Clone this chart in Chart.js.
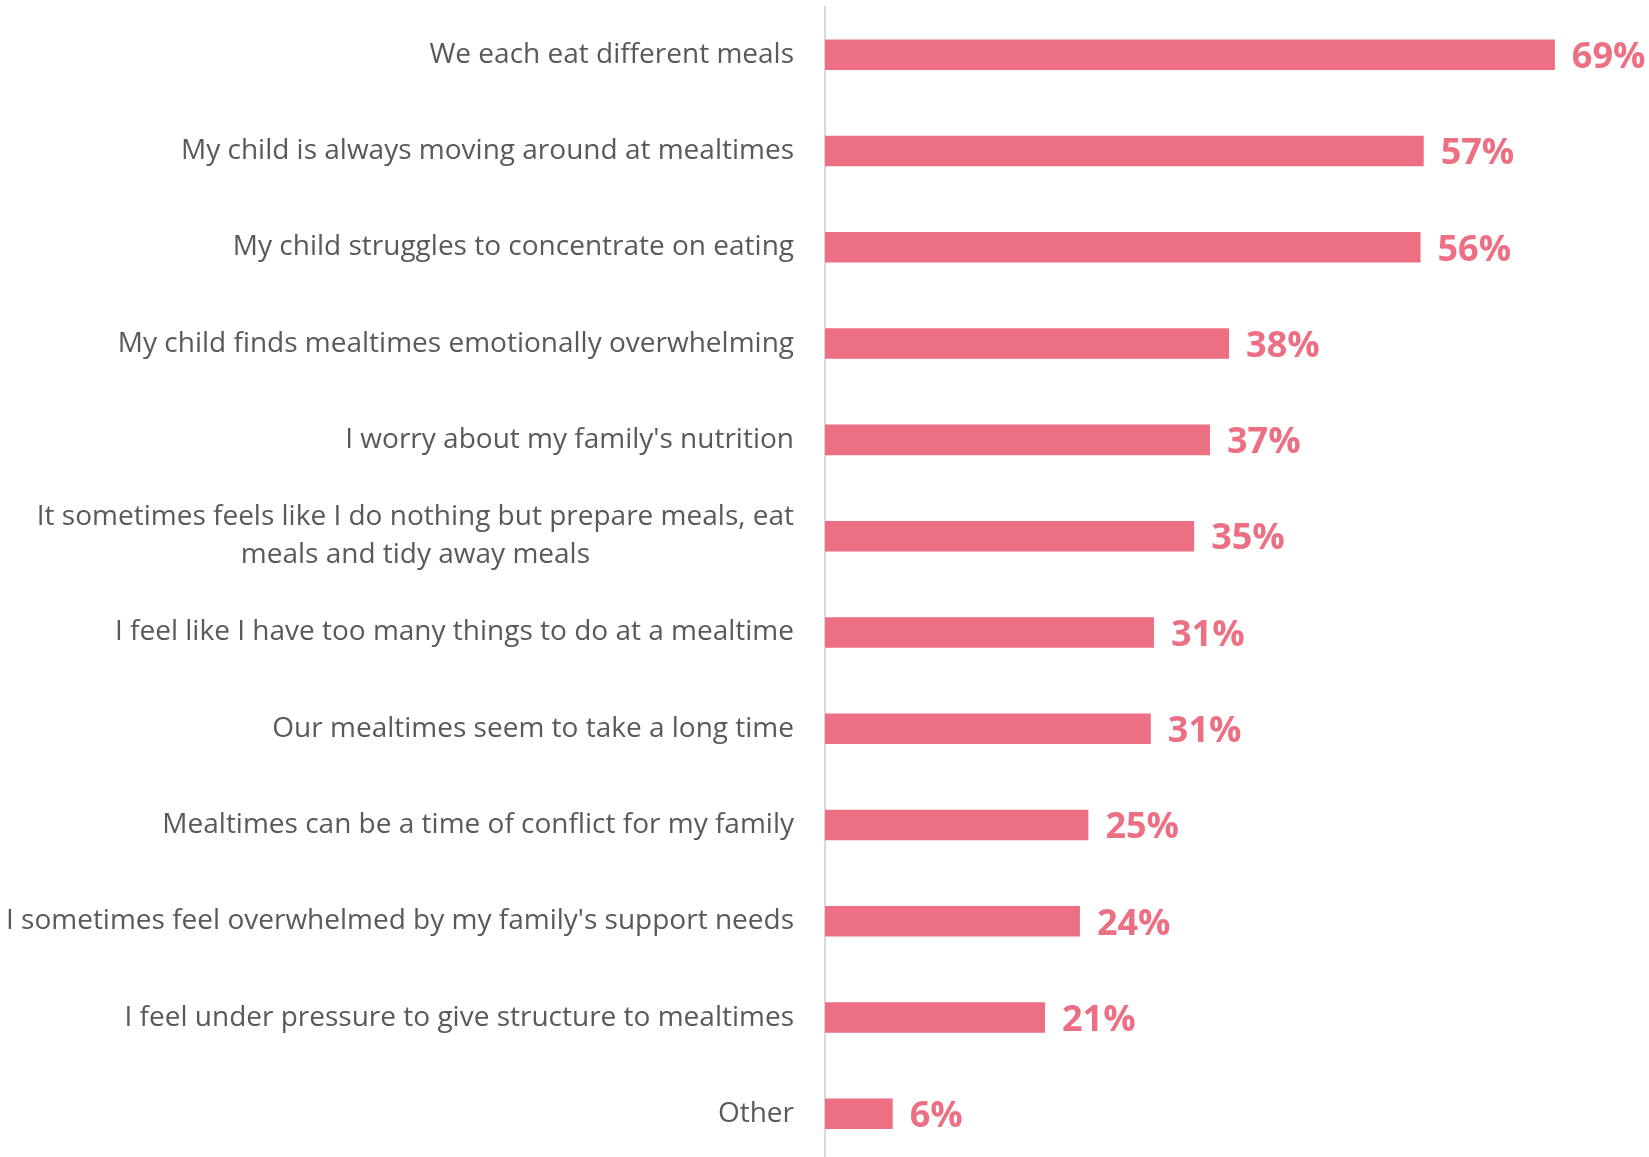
<!DOCTYPE html>
<html>
<head>
<meta charset="utf-8">
<title>Mealtime challenges</title>
<script src="https://cdn.jsdelivr.net/npm/chart.js@4.4.1/dist/chart.umd.min.js"></script>
<style>
  html, body { margin: 0; padding: 0; background: #fff; }
  #wrap { width: 1649px; height: 1157px; overflow: hidden; }
  #wrap canvas { display: block; }
</style>
</head>
<body>
<div id="wrap"><canvas id="mealChart" width="1649" height="1162"></canvas></div>
<script>
// categories, top to bottom
const categories = [
  'We each eat different meals',
  'My child is always moving around at mealtimes',
  'My child struggles to concentrate on eating',
  'My child finds mealtimes emotionally overwhelming',
  "I worry about my family's nutrition",
  ['It sometimes feels like I do nothing but prepare meals, eat', 'meals and tidy away meals'],
  'I feel like I have too many things to do at a mealtime',
  'Our mealtimes seem to take a long time',
  'Mealtimes can be a time of conflict for my family',
  "I sometimes feel overwhelmed by my family's support needs",
  'I feel under pressure to give structure to mealtimes',
  'Other'
];

// share of respondents (%)
const shares = [69.0, 56.6, 56.3, 38.2, 36.4, 34.9, 31.1, 30.8, 24.9, 24.1, 20.8, 6.4];

// labels printed next to the bars
const shareLabels = ['69%', '57%', '56%', '38%', '37%', '35%', '31%', '31%', '25%', '24%', '21%', '6%'];

const PINK = '#ec6f83';
const GREY_TEXT = '#595959';

// draws the value labels and the (centred, multi-line) category labels
const barLabels = {
  id: 'barLabels',
  afterDatasetsDraw(chart) {
    const ctx = chart.ctx;
    const bars = chart.getDatasetMeta(0).data;
    const left = chart.chartArea.left;
    ctx.save();

    ctx.font = 'bold 36px "Open Sans"';
    ctx.fillStyle = PINK;
    ctx.textAlign = 'left';
    ctx.textBaseline = 'middle';
    bars.forEach((bar, i) => ctx.fillText(shareLabels[i], bar.x + 17, bar.y + 3));

    ctx.font = '28px "Open Sans"';
    ctx.fillStyle = GREY_TEXT;
    ctx.textAlign = 'center';
    const lineH = 38;
    bars.forEach((bar, i) => {
      const lines = [].concat(categories[i]);
      const w = Math.max(...lines.map(l => ctx.measureText(l).width));
      const cx = left - 31 - w / 2;
      const y0 = bar.y - (lines.length - 1) * lineH / 2;
      lines.forEach((l, k) => ctx.fillText(l, cx, y0 + k * lineH));
    });
    ctx.restore();
  }
};

new Chart(document.getElementById('mealChart').getContext('2d'), {
  type: 'bar',
  data: {
    labels: categories,
    datasets: [{
      data: shares,
      backgroundColor: PINK,
      borderWidth: 0,
      barPercentage: 0.317,
      categoryPercentage: 1
    }]
  },
  options: {
    indexAxis: 'y',
    responsive: false,
    animation: false,
    layout: { padding: { top: 6.6, right: 0, bottom: 0, left: 0 } },
    plugins: {
      legend: { display: false },
      tooltip: { enabled: false }
    },
    scales: {
      x: {
        display: false,
        min: 0,
        max: 77.9
      },
      y: {
        grid: { display: false, drawTicks: false },
        border: { display: true, color: '#d9d9d9', width: 2 },
        ticks: { display: false },
        afterFit: s => { s.width = 825; }
      }
    }
  },
  plugins: [barLabels]
});
</script>
</body>
</html>
